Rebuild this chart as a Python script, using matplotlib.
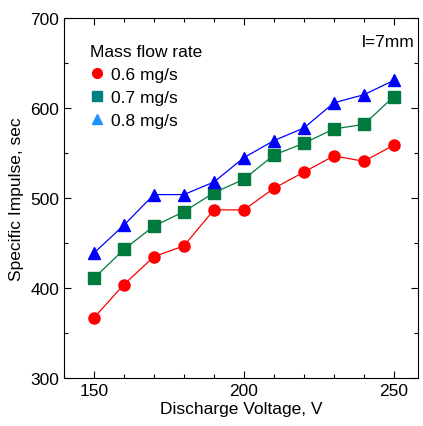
import matplotlib
matplotlib.use("Agg")
import matplotlib.pyplot as plt
from matplotlib.lines import Line2D
from matplotlib.ticker import MultipleLocator

plt.rcParams['font.family'] = ['Liberation Sans', 'DejaVu Sans']

voltage = [150, 160, 170, 180, 190, 200, 210, 220, 230, 240, 250]
isp_06 = [367, 404, 435, 447, 487, 487, 511, 529, 547, 541, 559]
isp_07 = [411, 443, 469, 485, 506, 521, 548, 561, 577, 582, 613]
isp_08 = [439, 470, 504, 504, 518, 545, 564, 578, 606, 615, 631]
labels = ['0.6 mg/s', '0.7 mg/s', '0.8 mg/s']

fig = plt.figure(figsize=(4.23, 4.27), dpi=100)
ax = fig.add_axes([0.151, 0.112, 0.837, 0.843])

ax.plot(voltage, isp_06, '-o', color='#ff0000', ms=8, lw=0.9, mec='#ff0000')
ax.plot(voltage, isp_07, '-s', color='#007a3d', ms=8.5, lw=0.9)
ax.plot(voltage, isp_08, '-^', color='#0000ff', ms=8, lw=0.9)

ax.set_xlim(140, 258)
ax.set_ylim(300, 700)
ax.xaxis.set_major_locator(MultipleLocator(50))
ax.xaxis.set_minor_locator(MultipleLocator(10))
ax.yaxis.set_major_locator(MultipleLocator(100))
ax.yaxis.set_minor_locator(MultipleLocator(50))
ax.tick_params(which='both', direction='in', top=True, right=True, labelsize=12.5, width=0.8)
ax.tick_params(which='major', length=5)
ax.tick_params(which='minor', length=3)
for s in ax.spines.values():
    s.set_linewidth(0.8)

ax.set_xlabel('Discharge Voltage, V', fontsize=12.5, labelpad=2)
ax.set_ylabel('Specific Impulse, sec', fontsize=12.5, labelpad=4)

handles = [
    Line2D([], [], ls='none', marker='o', color='#ff0000', ms=7),
    Line2D([], [], ls='none', marker='s', color='#008080', ms=7),
    Line2D([], [], ls='none', marker='^', color='#1e90ff', ms=7),
]
leg = ax.legend(handles, labels, title='Mass flow rate', loc='upper left',
                bbox_to_anchor=(0.04, 0.962), frameon=False, fontsize=12.5,
                title_fontsize=12.5, handlelength=0.8, handletextpad=0.4,
                labelspacing=0.45, borderpad=0.2)
leg._legend_box.align = 'left'

ax.text(0.99, 0.955, 'l=7mm', transform=ax.transAxes, ha='right', va='top', fontsize=12.5)

fig.savefig('out.png', dpi=100)
